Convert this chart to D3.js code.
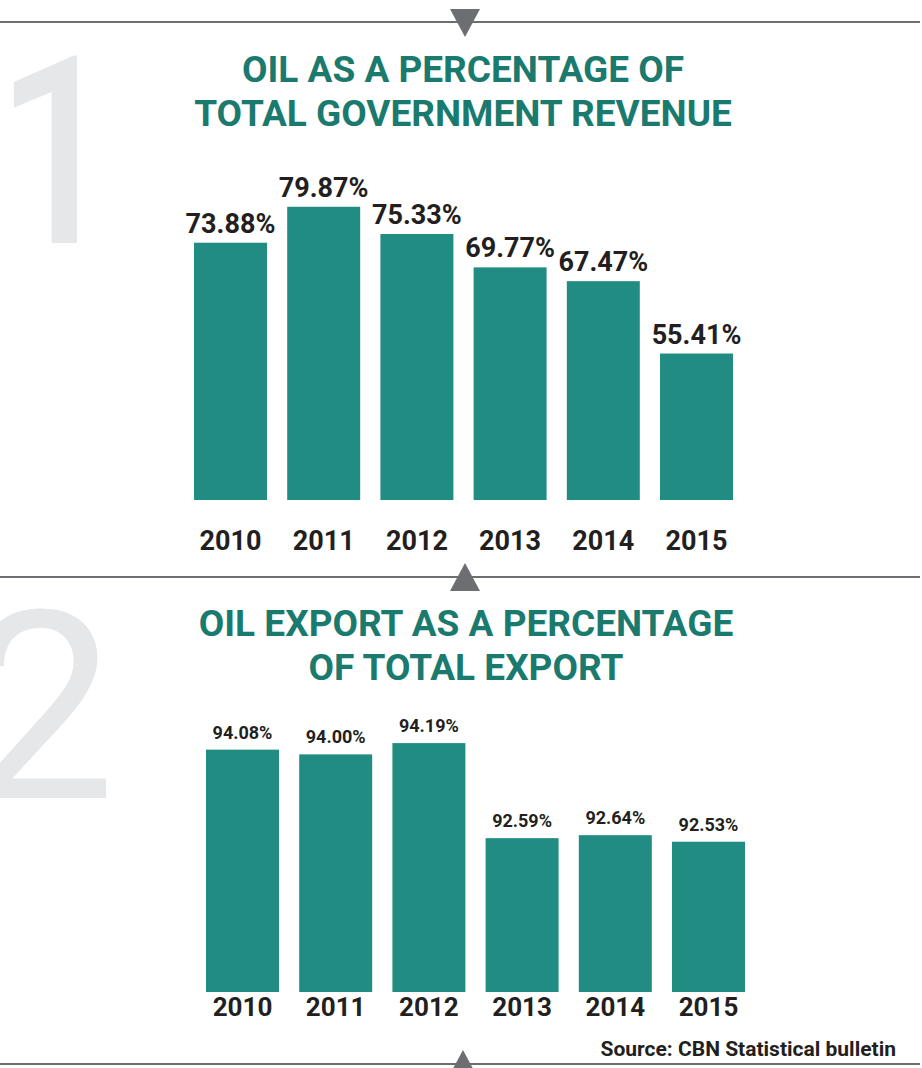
<!DOCTYPE html>
<html>
<head>
<meta charset="utf-8">
<script src="https://cdn.jsdelivr.net/npm/d3@7"></script>
<style>
  body { margin: 0; background: #fff; }
  svg { display: block; font-family: Roboto, "Noto Sans", sans-serif; }
</style>
</head>
<body>
<svg id="chart" width="922" height="1068"></svg>
<script>
var years        = ["2010", "2011", "2012", "2013", "2014", "2015"];
var revenueShare = [73.88, 79.87, 75.33, 69.77, 67.47, 55.41];
var exportShare  = [94.08, 94.00, 94.19, 92.59, 92.64, 92.53];
var title1 = ["OIL AS A PERCENTAGE OF", "TOTAL GOVERNMENT REVENUE"];
var title2 = ["OIL EXPORT AS A PERCENTAGE", "OF TOTAL EXPORT"];
var source = "Source: CBN Statistical bulletin";

var svg = d3.select('#chart');
var teal = "#218c81";
var titleTeal = "#1b7a6e";
var dark = "#231f20";
var rule = "#6d6e71";

// divider lines + triangles
function divider(y, down, tx) {
  svg.append("line")
    .attr("x1", 0).attr("x2", 920)
    .attr("y1", y).attr("y2", y)
    .attr("stroke", rule).attr("stroke-width", 2);
  var pts = down
    ? [[tx - 15, y - 13], [tx + 15, y - 13], [tx, y + 15]]
    : [[tx - 15, y + 14], [tx + 15, y + 14], [tx, y - 14]];
  svg.append("polygon")
    .attr("points", pts.map(function(p) { return p.join(","); }).join(" "))
    .attr("fill", rule);
}
divider(22, true, 465);
divider(577, false, 465);
divider(1064, false, 463);

// big grey section numbers
svg.append("text")
  .attr("transform", "translate(-4,243) scale(0.82,1)")
  .attr("font-size", 263).attr("font-weight", 500)
  .attr("fill", "#e6e7e8")
  .text("1");
svg.append("text")
  .attr("x", -32).attr("y", 798)
  .attr("font-size", 263).attr("font-weight", 400)
  .attr("fill", "#e6e7e8")
  .text("2");

function title(lines, x, y0, gap) {
  svg.append("g").selectAll("text")
    .data(lines)
    .enter()
    .append("text")
    .attr("x", x)
    .attr("y", function(d, i) { return y0 + i * gap; })
    .attr("text-anchor", "middle")
    .attr("font-size", 37).attr("font-weight", 700)
    .attr("fill", titleTeal)
    .text(function(d) { return d; });
}
title(title1, 463, 82, 44);
title(title2, 466, 636, 44);

function barChart(cfg) {
  var x = d3.scaleBand()
    .domain(years)
    .range(cfg.xRange)
    .paddingInner(0.217)
    .paddingOuter(0);
  var y = d3.scaleLinear()
    .domain(cfg.yDomain)
    .range([cfg.base, cfg.top]);
  var rows = years.map(function(yr, i) { return {year: yr, value: cfg.values[i]}; });
  var g = svg.append("g");

  g.selectAll('.bar')
    .data(rows)
    .enter()
    .append("rect")
    .attr('class', 'bar')
    .attr("x", function(d) { return x(d.year); })
    .attr("y", function(d) { return y(d.value); })
    .attr("width", x.bandwidth())
    .attr("height", function(d) { return cfg.base - y(d.value); })
    .attr("fill", teal);

  g.selectAll('.val')
    .data(rows)
    .enter()
    .append("text")
    .attr('class', 'val')
    .attr("x", function(d) { return x(d.year) + x.bandwidth() / 2; })
    .attr("y", function(d) { return y(d.value) - cfg.labelGap; })
    .attr("text-anchor", "middle")
    .attr("font-size", cfg.valueSize).attr("font-weight", 700)
    .attr("fill", dark)
    .text(function(d) { return d.value.toFixed(2) + "%"; });

  var axis = d3.axisBottom(x).tickSize(0).tickPadding(0);
  var ag = g.append("g")
    .attr("transform", "translate(0," + cfg.yearY + ")")
    .call(axis);
  ag.select(".domain").remove();
  ag.selectAll("text")
    .attr("dy", 0)
    .attr("font-family", "Roboto, sans-serif")
    .attr("font-size", cfg.yearSize).attr("font-weight", 700)
    .attr("fill", dark);
}

barChart({
  values: revenueShare,
  xRange: [194, 733],
  yDomain: [31, 82],
  base: 500, top: 194,
  labelGap: 10, valueSize: 27,
  yearY: 550, yearSize: 27
});

barChart({
  values: exportShare,
  xRange: [206, 745],
  yDomain: [90, 95],
  base: 992, top: 695,
  labelGap: 11, valueSize: 18,
  yearY: 1016, yearSize: 26
});

svg.append("text")
  .attr("x", 896).attr("y", 1056)
  .attr("text-anchor", "end")
  .attr("font-size", 21).attr("font-weight", 700)
  .attr("fill", dark)
  .text(source);
</script>
</body>
</html>
